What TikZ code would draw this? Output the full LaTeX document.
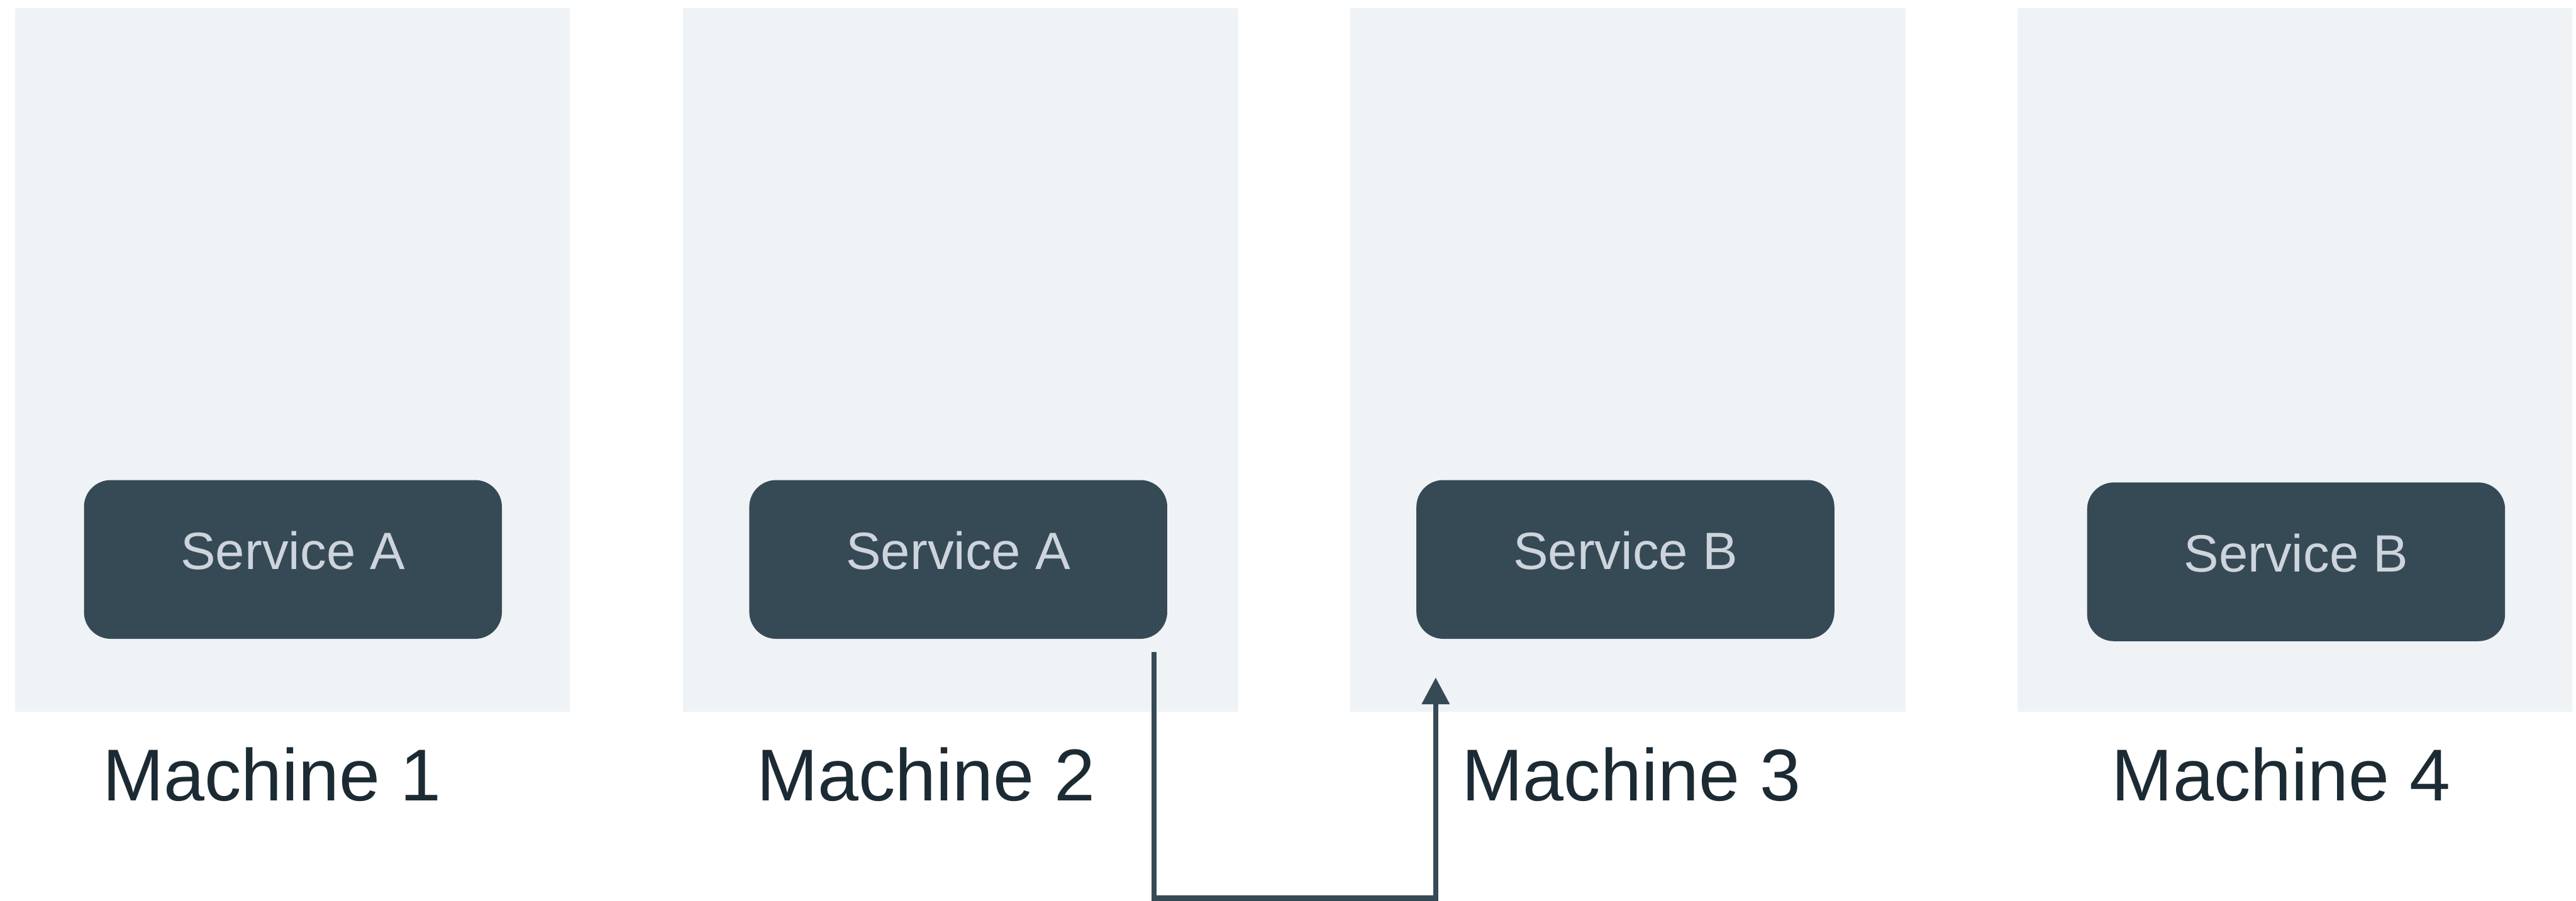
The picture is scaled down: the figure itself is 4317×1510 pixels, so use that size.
\documentclass[tikz,border=0pt]{standalone}
\usepackage{fontspec}
\setmainfont{Liberation Sans}
\usetikzlibrary{arrows.meta,calc}

\definecolor{machinebg}{HTML}{EFF3F6}
\definecolor{svcfill}{HTML}{364A56}
\definecolor{svctext}{HTML}{CDD4DC}
\definecolor{labeltext}{HTML}{1C2A33}

\tikzset{
  machinebox/.style={fill=machinebg, draw=none},
  servicebox/.style={fill=svcfill, draw=none, rounded corners=0.45cm,
    minimum width=7cm, minimum height=2.66cm, inner sep=0pt,
    anchor=north west, text=svctext,
    font=\fontsize{25}{30}\selectfont,
    text height=0.95em, text depth=0pt},
  machinelabel/.style={anchor=base, text=labeltext, inner sep=0pt,
    font=\fontsize{35}{42}\selectfont},
  conn/.style={draw=svcfill, line width=0.09cm,
    -{Triangle[length=0.45cm,width=0.45cm]}}
}

\begin{document}
\begin{tikzpicture}[x=0.01cm,y=-0.01cm]
  \useasboundingbox (0,0) rectangle (4317,1510);

  % machine backgrounds
  \fill[machinebox] (25,14)   rectangle ++(930,1179);
  \fill[machinebox] (1145,14) rectangle ++(930,1179);
  \fill[machinebox] (2263,14) rectangle ++(930,1179);
  \fill[machinebox] (3381,14) rectangle ++(930,1179);

  % services
  \node[servicebox] (s1) at (140,804)  {Service A};
  \node[servicebox] (s2) at (1255,804) {Service A};
  \node[servicebox] (s3) at (2373,804) {Service B};
  \node[servicebox] (s4) at (3497,808) {Service B};

  % machine names
  \node[machinelabel] (m1) at (456,1342)  {Machine 1};
  \node[machinelabel] (m2) at (1552,1342) {Machine 2};
  \node[machinelabel] (m3) at (2734,1342) {Machine 3};
  \node[machinelabel] (m4) at (3823,1342) {Machine 4};

  % call from service A on machine 2 to service B on machine 3
  \draw[conn] ($(s2.south east)+(-23,21)$) -- ++(0,413)
              -| ($(s3.south west)+(33,64)$);
\end{tikzpicture}
\end{document}
